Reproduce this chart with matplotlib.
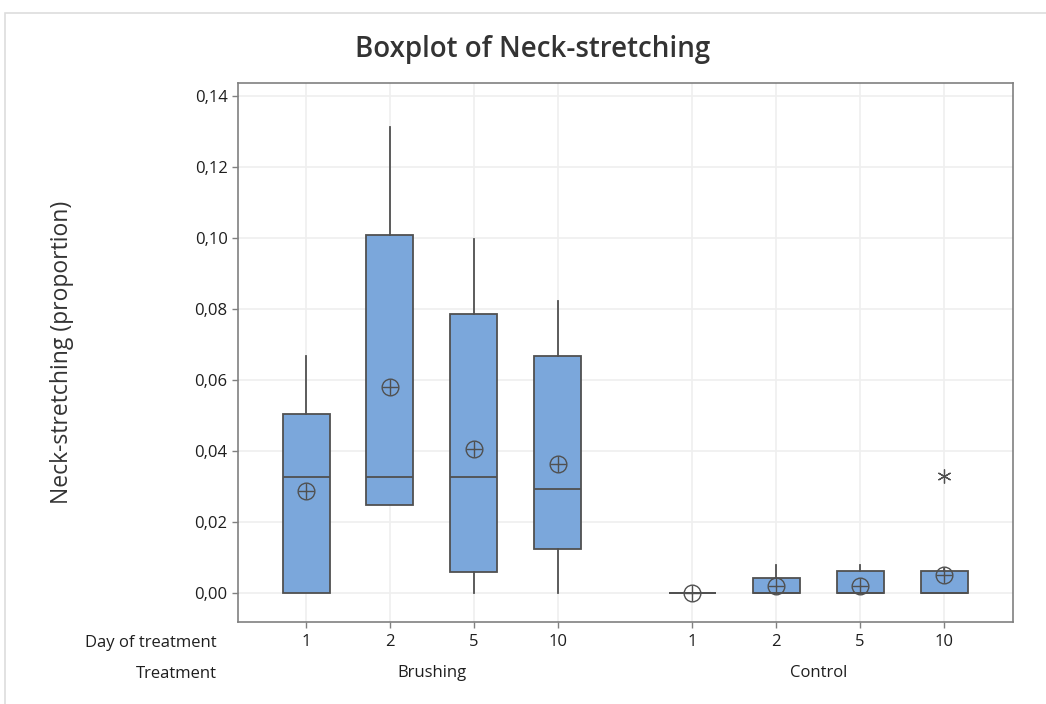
import numpy as np
import matplotlib
matplotlib.use('Agg')
import matplotlib.pyplot as plt
from matplotlib.patches import Rectangle

# Summary statistics (proportion)
treatments = ['Brushing', 'Control']
days = ['1', '2', '5', '10']
q1 = [0.0, 0.0248, 0.0059, 0.0124, 0.0, 0.0, 0.0, 0.0]
medians = [0.0327, 0.0327, 0.0327, 0.0293, 0.0, 0.0, 0.0, 0.0]
q3 = [0.0504, 0.1010, 0.0785, 0.0667, 0.0, 0.0042, 0.0061, 0.0061]
whisk_lo = [0.0, 0.0248, 0.0, 0.0, 0.0, 0.0, 0.0, 0.0]
whisk_hi = [0.0668, 0.1312, 0.0998, 0.0823, 0.0, 0.0079, 0.0079, 0.0066]
means = [0.0287, 0.0580, 0.0405, 0.0363, 0.0, 0.0020, 0.0020, 0.0050]
outliers = [[], [], [], [], [], [], [], [0.0330]]

positions = [1, 2, 3, 4, 5.6, 6.6, 7.6, 8.6]

box_color = '#7BA7DB'
edge = '#505050'
txt = '#1e1e1e'

plt.rcParams['font.family'] = ['Open Sans', 'DejaVu Sans']
fig = plt.figure(figsize=(10.46, 7.04), dpi=100)
ax = fig.add_axes([238 / 1046, 1 - 622 / 704, (1013 - 238) / 1046, (622 - 83) / 704])

stats = []
for i in range(len(positions)):
    stats.append({'med': medians[i], 'q1': q1[i], 'q3': q3[i],
                  'whislo': whisk_lo[i], 'whishi': whisk_hi[i],
                  'fliers': outliers[i], 'mean': means[i]})

ax.bxp(stats, positions=positions, widths=0.56, patch_artist=True,
       showmeans=False, showcaps=False,
       boxprops=dict(facecolor=box_color, edgecolor=edge, linewidth=1.3),
       medianprops=dict(color=edge, linewidth=1.3),
       whiskerprops=dict(color=edge, linewidth=1.3),
       flierprops=dict(marker=(6, 2, 0), markersize=10, markeredgecolor=edge,
                       markeredgewidth=0.9, linestyle='none'),
       zorder=3)

# mean symbol: circle with cross
ax.plot(positions, means, linestyle='none', marker='o', markersize=12,
        markerfacecolor='none', markeredgecolor=edge, markeredgewidth=1.0, zorder=5)
ax.plot(positions, means, linestyle='none', marker='+', markersize=12,
        markeredgecolor=edge, markeredgewidth=1.0, zorder=5)

ax.set_xlim(0.19, 9.42)
ax.set_ylim(-0.0082, 0.1437)
yt = np.arange(0, 0.141, 0.02)
ax.set_yticks(yt)
ax.set_yticklabels([('%.2f' % v).replace('.', ',') for v in yt], fontsize=12, color=txt)
ax.set_xticks(positions)
ax.set_xticklabels([])
ax.tick_params(axis='both', length=4, color='#808080', width=1)
ax.grid(True, color='#EFEFEF', linewidth=1.2, zorder=0)
ax.set_axisbelow(True)
for s in ax.spines.values():
    s.set_color('#808080')
    s.set_linewidth(1.2)

# category labels below axis
trans = ax.get_xaxis_transform()
for i, p in enumerate(positions):
    ax.text(p, -0.037, days[i % 4], transform=trans, ha='center', va='center',
            fontsize=12, color=txt)
ax.text(np.mean(positions[:4]), -0.095, treatments[0], transform=trans, ha='center',
        va='center', fontsize=12, color=txt)
ax.text(np.mean(positions[4:]), -0.095, treatments[1], transform=trans, ha='center',
        va='center', fontsize=12, color=txt)
fig.text(217 / 1046, 1 - 643 / 704, 'Day of treatment', ha='right', va='center',
         fontsize=12, color=txt)
fig.text(217 / 1046, 1 - 674 / 704, 'Treatment', ha='right', va='center',
         fontsize=12, color=txt)

fig.text(62 / 1046, 1 - 352 / 704, 'Neck-stretching (proportion)', rotation=90,
         ha='center', va='center', fontsize=16.5, color='#333333')
fig.text(533 / 1046, 1 - 50 / 704, 'Boxplot of Neck-stretching', ha='center', va='center',
         fontsize=20, fontweight='semibold', color='#333333')

# light frame around the graph region
fig.patches.append(Rectangle((5 / 1046, -0.1), 1.2, 1 - 13 / 704 + 0.1,
                             transform=fig.transFigure, fill=False,
                             edgecolor='#DDDDDD', linewidth=1.2))

fig.savefig('out.png', dpi=100)
